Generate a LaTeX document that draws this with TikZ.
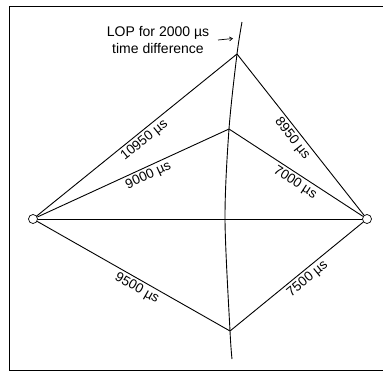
\documentclass[tikz,border=0pt]{standalone}
\usepackage{fontspec}
\setmainfont{Liberation Sans}
\usetikzlibrary{arrows.meta}
\begin{document}
\begin{tikzpicture}[x=1pt,y=-1pt,
  line width=0.9pt,
  station/.style={circle,draw,fill=white,minimum size=9pt,inner sep=0pt,line width=0.7pt},
  lbl/.style={sloped,below,inner sep=2.5pt,font=\fontsize{13.5}{15}\selectfont},
  frameline/.style={line width=1pt}]
\useasboundingbox (0,0) rectangle (383,383);
% frame
\draw[frameline] (383,6) -- (9,6) -- (9,370) -- (383,370);
% vertices
\coordinate (T) at (237,54);
\coordinate (M) at (229,129);
\coordinate (B) at (230,331);
\coordinate (lopTop) at (242,22);
\coordinate (lopMid) at (225,219);
\coordinate (lopBot) at (232,359);
% LOP curve
\draw plot[smooth,tension=0.5] coordinates {(lopTop) (T) (M) (lopMid) (B) (lopBot)};
% stations
\node[station] (A) at (33,219) {};
\node[station] (R) at (367,219) {};
% baseline
\draw (A) -- (R);
% range lines
\draw (A) -- node[lbl,pos=0.51] {10950 µs} (T);
\draw (A) -- node[lbl,pos=0.56] {9000 µs} (M);
\draw (T) -- node[lbl,pos=0.49] {8950 µs} (R);
\draw (M) -- node[lbl,pos=0.53] {7000 µs} (R);
\draw (A) -- node[lbl,pos=0.54] {9500 µs} (B);
\draw (B) -- node[lbl,pos=0.54] {7500 µs} (R);
% LOP label
\node[align=center,inner sep=0pt,font=\fontsize{14}{16.5}\selectfont] (lop) at (158,40) {LOP for 2000 µs\\time difference};
\coordinate (arrS) at (218,40);
\coordinate (arrE) at (233,38.5);
\draw[line width=0.7pt,-{Straight Barb[length=3pt,width=4pt]}] (arrS) -- (arrE);
\end{tikzpicture}
\end{document}
